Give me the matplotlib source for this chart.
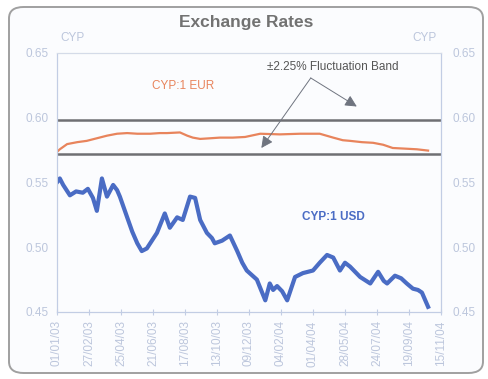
import matplotlib
matplotlib.use("Agg")
import matplotlib.pyplot as plt
from matplotlib.patches import FancyBboxPatch
import pandas as pd

plt.rcParams['font.family'] = ['Liberation Sans', 'DejaVu Sans']

start = pd.Timestamp('2003-01-01')

# CYP per 1 USD, days counted from 1 Jan 2003
usd_days = [0, 5, 11, 23, 34, 46, 55, 64, 71, 80, 89, 100, 107, 112, 125, 134,
            143, 151, 160, 169, 178, 192, 201, 214, 224, 237, 246, 255, 267, 276,
            281, 294, 308, 321, 330, 338, 356, 371, 379, 385, 392, 401, 410, 424,
            438, 456, 468, 481, 492, 504, 513, 522, 540, 558, 572, 582, 588, 602,
            613, 623, 634, 643, 650, 661]
usd_vals = [0.550, 0.553, 0.548, 0.540, 0.543, 0.542, 0.545, 0.538, 0.528, 0.553,
            0.539, 0.548, 0.544, 0.539, 0.523, 0.512, 0.503, 0.497, 0.499, 0.505,
            0.511, 0.526, 0.515, 0.523, 0.521, 0.539, 0.538, 0.521, 0.511, 0.507,
            0.503, 0.505, 0.509, 0.497, 0.488, 0.482, 0.475, 0.459, 0.472, 0.467,
            0.470, 0.466, 0.459, 0.477, 0.480, 0.482, 0.488, 0.494, 0.492, 0.482,
            0.488, 0.485, 0.477, 0.472, 0.481, 0.474, 0.472, 0.478, 0.476, 0.472,
            0.468, 0.467, 0.465, 0.454]

# CYP per 1 EUR
eur_days = [0, 5, 18, 36, 53, 71, 89, 107, 125, 143, 166, 183, 196, 219, 232, 242,
            255, 273, 290, 313, 335, 362, 397, 433, 468, 492, 509, 522, 543, 563,
            581, 598, 620, 641, 661]
eur_vals = [0.5735, 0.5755, 0.5795, 0.581, 0.582, 0.584, 0.586, 0.5875, 0.588,
            0.5875, 0.5875, 0.588, 0.588, 0.5885, 0.586, 0.5845, 0.5835, 0.584,
            0.5845, 0.5845, 0.585, 0.5875, 0.587, 0.5875, 0.5875, 0.5845, 0.5825,
            0.582, 0.581, 0.5805, 0.579, 0.5765, 0.576, 0.5755, 0.5745]

# ERM II fluctuation band around the central rate
band_upper = 0.5984
band_lower = 0.5721

tick_dates = ['01/01/03', '27/02/03', '25/04/03', '21/06/03', '17/08/03',
              '13/10/03', '09/12/03', '04/02/04', '01/04/04', '28/05/04',
              '24/07/04', '19/09/04', '15/11/04']
y_ticks = [0.45, 0.50, 0.55, 0.60, 0.65]

usd_x = start + pd.to_timedelta(usd_days, unit='D')
eur_x = start + pd.to_timedelta(eur_days, unit='D')
tick_x = pd.to_datetime(tick_dates, format='%d/%m/%y')

W, H = 489, 379
fig = plt.figure(figsize=(W / 100, H / 100), dpi=100)
fig.patch.set_facecolor('white')

frame = FancyBboxPatch((9 / W, 6 / H), 474 / W, 366 / H,
                       boxstyle="round,pad=0,rounding_size=0.03",
                       transform=fig.transFigure, facecolor='#fbfcfe',
                       edgecolor='#a0a0a0', linewidth=1.4, zorder=-10)
fig.patches.append(frame)

ax = fig.add_axes([57 / W, 1 - 312 / H, 384 / W, (312 - 52.7) / H])
ax.set_facecolor('none')

tick_col = '#bcc6dc'
axis_col = '#c2cde4'

ax.axhline(band_upper, color='#6f6f73', lw=1.8, zorder=2)
ax.axhline(band_lower, color='#6f6f73', lw=1.8, zorder=2)
ax.plot(eur_x, eur_vals, color='#e8845c', lw=1.6, zorder=3)
ax.plot(usd_x, usd_vals, color='#4a6cc4', lw=3.0, zorder=3,
        solid_joinstyle='round')

ax.set_xlim(tick_x[0], tick_x[-1])
ax.set_ylim(0.45, 0.65)
ax.set_xticks(tick_x)
ax.set_xticklabels(tick_dates, rotation=90)
ax.set_yticks(y_ticks)
ax.set_yticklabels([f'{v:.2f}' for v in y_ticks])
ax.tick_params(axis='both', colors=axis_col, labelcolor=tick_col,
               labelsize=8.5, length=3, width=0.8)
ax.tick_params(axis='y', length=0, pad=6)
ax.tick_params(axis='x', direction='inout', length=4, pad=4)

ax2 = ax.twinx()
ax2.set_ylim(0.45, 0.65)
ax2.set_yticks(y_ticks)
ax2.set_yticklabels([f'{v:.2f}' for v in y_ticks])
ax2.tick_params(axis='y', colors=axis_col, labelcolor=tick_col,
                labelsize=8.5, length=0, pad=8)

for a in (ax, ax2):
    for side in ('left', 'right', 'bottom'):
        a.spines[side].set_color(axis_col)
        a.spines[side].set_linewidth(0.8)
    a.spines['left'].set_linestyle((0, (2, 1)))
    a.spines['top'].set_color('#d4dbe8')
    a.spines['top'].set_linestyle((0, (2, 1)))
    a.spines['top'].set_linewidth(0.8)
ax.spines['bottom'].set_linestyle((0, (3, 1)))

fig.text(246 / W, 1 - 22 / H, 'Exchange Rates', ha='center', va='center',
         fontsize=12.5, fontweight='bold', color='#727272')
fig.text(60 / W, 1 - 38 / H, 'CYP', ha='left', va='center',
         fontsize=8.5, color=tick_col)
fig.text(437 / W, 1 - 38 / H, 'CYP', ha='right', va='center',
         fontsize=8.5, color=tick_col)

d = lambda n: start + pd.Timedelta(days=n)
ax.text(d(224), 0.6244, 'CYP:1 EUR', color='#e8845c', fontsize=8.5,
        ha='center', va='center')
ax.text(d(492), 0.5229, 'CYP:1 USD', color='#4a6cc4', fontsize=8.5,
        fontweight='bold', ha='center', va='center')
ax.text(d(492), 0.639, '\u00b12.25% Fluctuation Band', color='#555555',
        fontsize=8.5, ha='center', va='center')

arrow_kw = dict(arrowstyle='-|>,head_length=0.7,head_width=0.35',
                color='#6f747f', lw=0.7, shrinkA=0, shrinkB=0)
ax.annotate('', xy=(d(534), 0.6085), xytext=(d(452), 0.6305),
            arrowprops=arrow_kw, zorder=4)
ax.annotate('', xy=(d(364), 0.5765), xytext=(d(452), 0.6305),
            arrowprops=arrow_kw, zorder=4)

fig.savefig('out.png', dpi=100)
